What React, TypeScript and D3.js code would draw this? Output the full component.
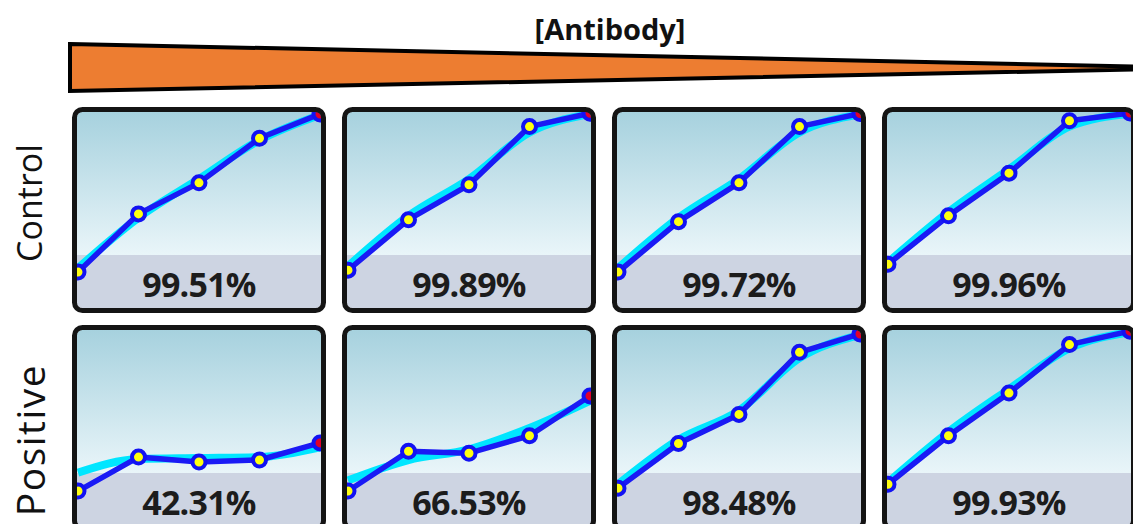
import * as d3 from 'd3';

// Data
const rowNames = ['Control', 'Positive'];
const steps = [1, 2, 3, 4, 5];

// % positive at each antibody dilution (last point = label)
const controlValues = [
  [18, 48, 64, 87, 99.51],
  [19, 45, 63, 93, 99.89],
  [18, 44, 64, 93, 99.72],
  [22, 47, 69, 96, 99.96],
];
const positiveValues = [
  [17.5, 35, 32.5, 33.5, 42.31],
  [17.5, 38, 37, 46, 66.53],
  [19, 42, 57, 89, 98.48],
  [21, 46, 68, 93, 99.93],
];

// fitted curve (cyan)
const controlFit = [
  [20, 46, 66, 86, 99],
  [21, 47, 66, 90, 99.5],
  [20, 46, 66, 90, 99.3],
  [23, 49, 71, 93, 99.6],
];
const positiveFit = [
  [27, 34, 34.5, 35, 40],
  [23, 33.5, 39, 50, 64],
  [21, 44, 59, 86, 98],
  [22, 48, 70, 91, 99.5],
];

const controlPct = [99.51, 99.89, 99.72, 99.96];
const positivePct = [42.31, 66.53, 98.48, 99.93];

const panelW = 254;
const panelH = 206;
const colX = d3.scaleLinear().domain([0, 1]).range([72, 342]);
const rowY = d3.scaleLinear().domain([0, 1]).range([107, 325]);

function Panel({ row, col, values, fit, pct }: any) {
  const x0 = colX(col);
  const y0 = rowY(row);
  const id = `p${row}${col}`;
  const x = d3.scaleLinear().domain([1, 5]).range([x0 + 6, x0 + panelW - 6]);
  const y = d3.scaleLinear().domain([0, 100]).range([y0 + 200, y0 + 6]);
  const line = d3.line<number>().x((_, i) => x(steps[i])).y((d) => y(d));
  const fitLine = d3
    .line<number>()
    .x((_, i) => x(steps[i]))
    .y((d) => y(d))
    .curve(d3.curveMonotoneX);

  return (
    <g>
      <defs>
        <clipPath id={`clip-${id}`}>
          <rect x={x0 + 5} y={y0 + 5} width={panelW - 10} height={panelH - 10} rx={5} />
        </clipPath>
      </defs>
      <g clipPath={`url(#clip-${id})`}>
        <rect x={x0} y={y0} width={panelW} height={148} fill="url(#bgGrad)" />
        <rect x={x0} y={y0 + 148} width={panelW} height={panelH - 148} fill="#cdd4e2" />
        <path d={fitLine(fit) ?? ''} fill="none" stroke="#00e6ff" strokeWidth={8} strokeLinejoin="round" />
        <path d={line(values) ?? ''} fill="none" stroke="#1a1af5" strokeWidth={5.5} strokeLinejoin="round" />
        {values.map((v: number, i: number) => (
          <circle
            key={i}
            cx={x(steps[i])}
            cy={y(v)}
            r={6.5}
            fill={i === values.length - 1 ? '#e0002a' : '#ffff10'}
            stroke="#1212f2"
            strokeWidth={4}
          />
        ))}
        <text
          x={x0 + panelW / 2}
          y={y0 + 190}
          textAnchor="middle"
          fontFamily="'Open Sans', sans-serif"
          fontWeight={700}
          fontSize={34}
          letterSpacing={-0.8}
          fill="#1c1c1c"
        >
          {pct.toFixed(2)}%
        </text>
      </g>
      <rect
        x={x0 + 2.5}
        y={y0 + 2.5}
        width={panelW - 5}
        height={panelH - 5}
        rx={8}
        fill="none"
        stroke="#141414"
        strokeWidth={5}
      />
    </g>
  );
}

export default function App() {
  const width = 1133;
  const height = 524;
  const wedge = d3.line()([
    [70, 44],
    [1210, 68],
    [70, 91],
  ]) + 'Z';

  const rowsData = [
    { values: controlValues, fit: controlFit, pct: controlPct },
    { values: positiveValues, fit: positiveFit, pct: positivePct },
  ];
  const labelCenter = [203, 440];
  const labelSize = [34, 39];
  const labelSpacing = [0, 1.5];

  return (
    <svg
      width={width}
      height={height}
      style={{ position: 'absolute', left: 0, top: 0, display: 'block', background: '#fff' }}
    >
      <defs>
        <linearGradient id="bgGrad" x1="0" y1="0" x2="0" y2="1">
          <stop offset="0%" stopColor="#a4d0dd" />
          <stop offset="100%" stopColor="#e9f5f9" />
        </linearGradient>
      </defs>

      <text
        x={610}
        y={40}
        textAnchor="middle"
        fontFamily="'Open Sans', sans-serif"
        fontWeight={700}
        fontSize={29}
        fill="#111"
      >
        [Antibody]
      </text>
      <path d={wedge} fill="#ed7d31" stroke="#000" strokeWidth={4} strokeLinejoin="miter" />

      {rowNames.map((name, r) => (
        <text
          key={name}
          transform={`translate(${r === 0 ? 42 : 45}, ${labelCenter[r]}) rotate(-90)`}
          textAnchor="middle"
          fontFamily="'Open Sans', sans-serif"
          fontSize={labelSize[r]}
          letterSpacing={labelSpacing[r]}
          fill="#111"
        >
          {name}
        </text>
      ))}

      {rowsData.map((rd, r) =>
        rd.values.map((vals, c) => (
          <Panel key={`${r}-${c}`} row={r} col={c} values={vals} fit={rd.fit[c]} pct={rd.pct[c]} />
        ))
      )}
    </svg>
  );
}
